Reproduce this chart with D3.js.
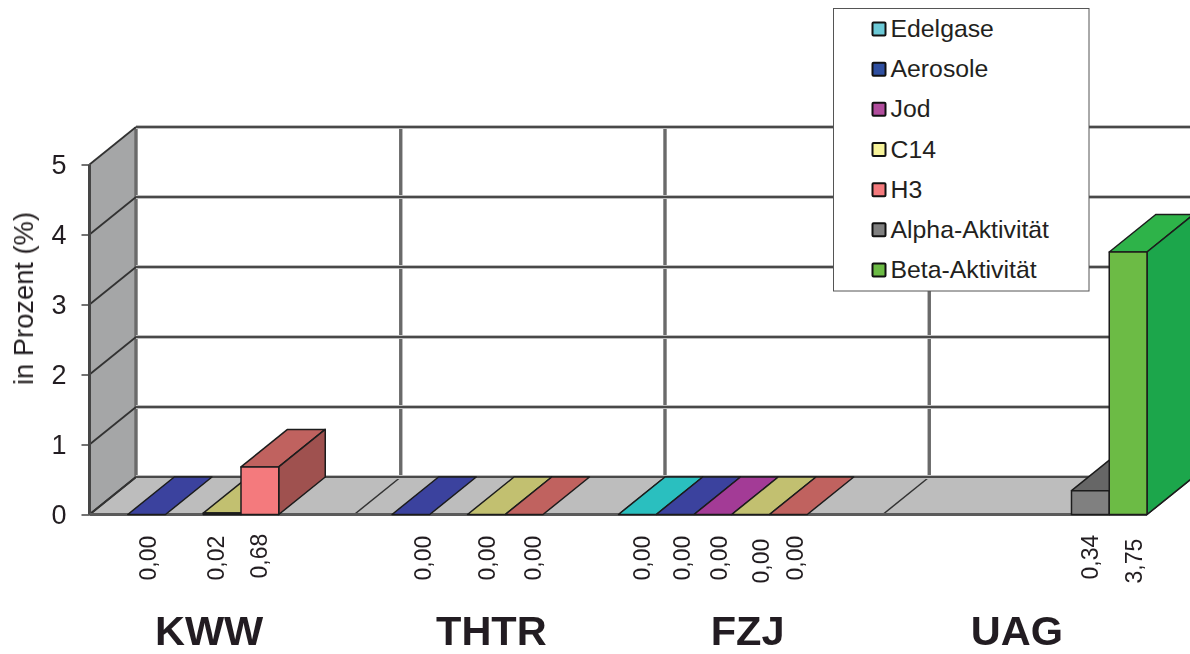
<!DOCTYPE html>
<html><head><meta charset="utf-8">
<script src="https://cdnjs.cloudflare.com/ajax/libs/d3/7.8.5/d3.min.js"></script>
<style>html,body{margin:0;background:#fff}svg{display:block}text{font-family:"Liberation Sans",Arial,sans-serif;fill:#231f20}</style>
</head><body><svg id="c" width="1190" height="654"></svg>
<script>
const categories = ["KWW","THTR","FZJ","UAG"];
const seriesNames = ["Edelgase","Aerosole","Jod","C14","H3","Alpha-Aktivität","Beta-Aktivität"];
const edelgase = [null,null,0,null];
const aerosole = [0,0,0,null];
const jod = [null,null,0,null];
const c14 = [0.02,0,0,null];
const h3 = [0.68,0,0,null];
const alpha = [null,null,null,0.34];
const beta = [null,null,null,3.75];
const yTicks = [0,1,2,3,4,5];
const allSeries = [edelgase,aerosole,jod,c14,h3,alpha,beta];

const frontColors = ["#6cc9d6","#2f4fa0","#b14d9d","#f7f39a","#f47a7d","#808080","#6cbb45"];
const topColors   = ["#2bbfbf","#3a429e","#a33a96","#c2c070","#c0625f","#666666","#2fb34a"];
const sideColors  = ["#229c9c","#2d3580","#85307a","#9e9c5a","#9f5150","#555555","#1ea64b"];
// hand placement of the rotated labels relative to their bar: [category][series]
const labelNudge = {"0-1":1,"0-3":-6,"0-4":-1,"1-1":12,"1-3":1,"1-4":9,"2-0":5,"2-1":7,"2-2":6,"2-3":10,"2-4":7,"3-5":0,"3-6":6};
const labelLift = {"2-3":3,"0-4":-2,"3-6":3,"3-5":-1};
const titleNudge = [-13,5,-3,2];

const svg = d3.select("#c");
const x0 = d3.scaleBand().domain(categories).range([90,1147]);
const x1 = d3.scaleBand().domain(seriesNames).range([0,x0.bandwidth()]);
const y = d3.scaleLinear().domain([0,5]).range([514.5,164.5]);
const DX = 46.5, DY = -37.5;

const defs = svg.append("defs");
defs.append("filter").attr("id","soft").append("feGaussianBlur").attr("stdDeviation",0.6);
defs.append("filter").attr("id","softer").append("feGaussianBlur").attr("stdDeviation",0.35);

const chart = svg.append("g").attr("filter","url(#soft)");
const poly = (pts,fill,stroke,sw)=>chart.append("polygon")
  .attr("points",pts.map(p=>p.join(",")).join(" "))
  .attr("fill",fill).attr("stroke",stroke||"none").attr("stroke-width",sw||0).attr("stroke-linejoin","round");
const line = (a,b,stroke,sw)=>chart.append("line")
  .attr("x1",a[0]).attr("y1",a[1]).attr("x2",b[0]).attr("y2",b[1])
  .attr("stroke",stroke).attr("stroke-width",sw);

const X0 = 89.5, X1 = x0.range()[1], Y0 = y(0), Y5 = y(5);
// left wall and floor
poly([[X0,Y5],[X0+DX,Y5+DY],[X0+DX,Y0+DY],[X0,Y0]],"#a5a6a7");
poly([[X0,Y0],[X0+DX,Y0+DY],[X1+DX,Y0+DY],[X1,Y0]],"#bdbdbd");
// back-wall group dividers and their floor continuation
categories.concat(["end"]).forEach((c,i)=>{
  const fx = i<4 ? x0(c) : X1;
  const px = i===0 ? X0 : fx;
  line([px,Y0],[px+DX,Y0+DY],"#333",i===0?2:1.5);
  if(i<4) line([px+DX,Y0+DY],[px+DX,Y5+DY],"#6a6a6a",3.4);
});
// gridlines
yTicks.forEach(t=>{
  line([X0,y(t)],[X0+DX,y(t)+DY],"#333",1.8);
  line([X0+DX,y(t)+DY],[1192,y(t)+DY],"#bdbdbd",4);
  line([X0+DX,y(t)+DY],[1192,y(t)+DY],t===2?"#222":"#4a4a4a",t===2?1.6:2.2);
});
line([X0,Y5],[X0,Y0],"#444",3);
line([X0,Y0],[X1,Y0],"#5a5a5a",3);

// bars, painted back to front
categories.forEach((c,ci)=>{
  seriesNames.forEach((s,si)=>{
    const v = allSeries[si][ci];
    if(v===null) return;
    const l = x0(c)+x1(s), r = l+x1.bandwidth(), t = y(v), b = Y0;
    const edge = "#1c1c1c";
    poly([[l,t],[l+DX,t+DY],[r+DX,t+DY],[r,t]],topColors[si],edge,1.5);
    if(v>0){
      poly([[r,t],[r+DX,t+DY],[r+DX,b+DY],[r,b]],sideColors[si],edge,1.5);
      poly([[l,t],[r,t],[r,b],[l,b]],frontColors[si],edge,1.5);
    }
  });
});

const texts = svg.append("g").attr("filter","url(#softer)");

// y axis
const axis = d3.axisLeft(y).tickValues(yTicks).tickSize(8).tickPadding(15).tickFormat(d3.format("d"));
const ax = texts.append("g").attr("transform",`translate(${X0},0)`).call(axis);
ax.select(".domain").remove();
ax.selectAll(".tick line").attr("stroke","#444").attr("stroke-width",1.5);
ax.selectAll(".tick text").attr("font-size",27).attr("dy","0.34em")
  .style("font-family",'"Liberation Sans",Arial,sans-serif').attr("fill","#231f20");

texts.append("text").attr("transform","translate(33,298.5) rotate(-90)")
  .attr("text-anchor","middle").attr("font-size",27.3).text("in Prozent (%)");

// value labels
const fmt = v=>d3.format(".2f")(v).replace(".",",");
categories.forEach((c,ci)=>{
  seriesNames.forEach((s,si)=>{
    const v = allSeries[si][ci];
    if(v===null) return;
    const key = ci+"-"+si;
    const cx = x0(c)+x1(s)+x1.bandwidth()/2+(labelNudge[key]||0);
    const by = 580.5+(labelLift[key]||0);
    texts.append("text").attr("transform",`translate(${cx+8},${by}) rotate(-90)`)
      .attr("font-size",23).text(fmt(v));
  });
});

// category labels
categories.forEach((c,i)=>{
  texts.append("text").attr("x",x0(c)+x0.bandwidth()/2+titleNudge[i]).attr("y",645)
    .attr("text-anchor","middle").attr("font-size",41.5).attr("font-weight","bold").text(c);
});

// legend
const lg = svg.append("g");
lg.append("rect").attr("x",833.5).attr("y",8.5).attr("width",255.5).attr("height",282.5)
  .attr("fill","#fff").attr("stroke","#555").attr("stroke-width",1);
const rowY = d3.scalePoint().domain(seriesNames).range([29,270]);
seriesNames.forEach((s,i)=>{
  lg.append("rect").attr("x",872.5).attr("y",rowY(s)-6.5).attr("width",13).attr("height",13)
    .attr("fill",frontColors[i]).attr("stroke","#111").attr("stroke-width",2).attr("rx",1);
  lg.append("text").attr("x",890.5).attr("y",rowY(s)+8).attr("font-size",24.8).text(s);
});
</script></body></html>
